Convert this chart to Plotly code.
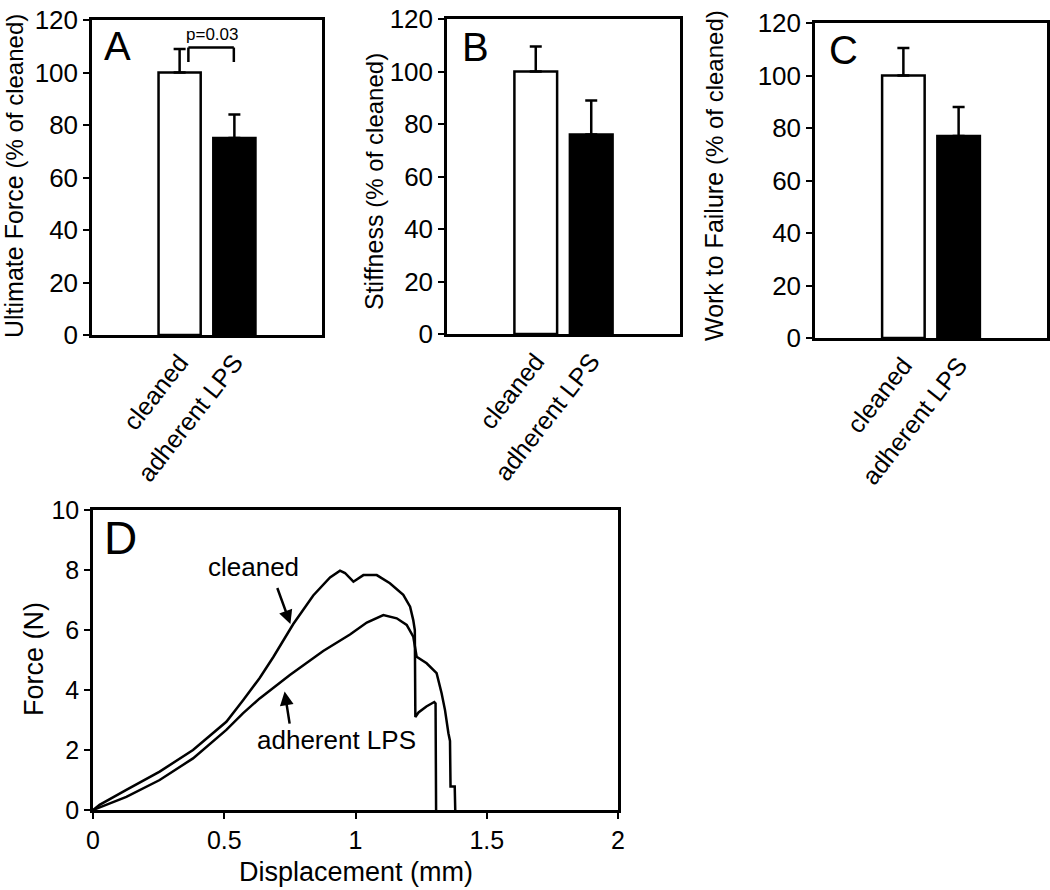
import plotly.graph_objects as go

# ---------------- data ----------------
groups = ["cleaned", "adherent LPS"]
ultimate_force = [100, 75]
ultimate_force_err = [9, 9]
stiffness = [100, 76]
stiffness_err = [9.5, 13]
work_to_failure = [100, 77]
work_to_failure_err = [10.5, 11]

cleaned_disp = [0, 0.025, 0.127, 0.254, 0.381, 0.508, 0.571, 0.635, 0.687, 0.763, 0.839,
                0.903, 0.941, 0.960, 0.992, 1.030, 1.081, 1.131, 1.182, 1.208, 1.220,
                1.226, 1.228, 1.240, 1.270, 1.300, 1.305, 1.307]
cleaned_force = [0, 0.17, 0.67, 1.28, 2.00, 2.94, 3.65, 4.40, 5.10, 6.20, 7.15,
                 7.75, 7.98, 7.90, 7.61, 7.83, 7.83, 7.56, 7.17, 6.78, 6.33,
                 6.00, 3.10, 3.25, 3.45, 3.60, 3.55, 0]
lps_disp = [0, 0.127, 0.254, 0.381, 0.508, 0.571, 0.635, 0.698, 0.750, 0.877, 0.979,
            1.043, 1.106, 1.157, 1.195, 1.220, 1.233, 1.271, 1.296, 1.309, 1.328,
            1.341, 1.354, 1.360, 1.362, 1.378, 1.380]
lps_force = [0, 0.44, 1.00, 1.72, 2.67, 3.22, 3.72, 4.15, 4.50, 5.30, 5.85,
             6.25, 6.50, 6.39, 6.17, 5.78, 5.11, 4.89, 4.67, 4.56, 3.89,
             3.33, 2.56, 2.30, 0.78, 0.78, 0]

bar_ticks = [0, 120, 20]
force_ticks = [0, 10, 2]

FONT = "Liberation Sans, Arial, Helvetica, sans-serif"
W, H = 1050, 890


def dom_x(a, b):
    return [a / W, b / W]


def dom_y(top, bottom):
    return [1 - bottom / H, 1 - top / H]


fig = go.Figure()

bar_panels = [
    (ultimate_force, ultimate_force_err, "x", "y"),
    (stiffness, stiffness_err, "x2", "y2"),
    (work_to_failure, work_to_failure_err, "x3", "y3"),
]
for vals, errs, xa, ya in bar_panels:
    fig.add_trace(go.Bar(
        x=[0, 1], y=vals, width=0.77,
        marker=dict(color=["white", "black"], line=dict(color="black", width=2.5)),
        error_y=dict(type="data", symmetric=False, array=errs, arrayminus=[0, 0],
                     color="black", thickness=2.5, width=6),
        xaxis=xa, yaxis=ya, showlegend=False,
    ))

fig.add_trace(go.Scatter(x=cleaned_disp, y=cleaned_force, mode="lines",
                         line=dict(color="black", width=2.5),
                         xaxis="x4", yaxis="y4", showlegend=False))
fig.add_trace(go.Scatter(x=lps_disp, y=lps_force, mode="lines",
                         line=dict(color="black", width=2.5),
                         xaxis="x4", yaxis="y4", showlegend=False))

axis_common = dict(showline=True, linecolor="black", linewidth=2.5, mirror=True,
                   showgrid=False, zeroline=False, ticks="outside", ticklen=6,
                   tickwidth=2, tickcolor="black", automargin=False)

bar_x = dict(axis_common, ticks="", range=[-1.6, 2.6], tickvals=[0, 1], ticktext=groups,
             tickangle=-52, tickfont=dict(family=FONT, size=25, color="black"))
bar_y = dict(axis_common, range=[0, 120], tickvals=list(range(bar_ticks[0], bar_ticks[1] + 1, bar_ticks[2])),
             tickfont=dict(family=FONT, size=26, color="black"))

layout = dict(
    width=W, height=H, margin=dict(l=0, r=0, t=0, b=0, autoexpand=False),
    plot_bgcolor="white", paper_bgcolor="white",
    font=dict(family=FONT, color="black"),
    xaxis=dict(bar_x, domain=dom_x(92, 322), anchor="y"),
    yaxis=dict(bar_y, domain=dom_y(20, 335), anchor="x"),
    xaxis2=dict(bar_x, domain=dom_x(447, 680), anchor="y2"),
    yaxis2=dict(bar_y, domain=dom_y(19, 334), anchor="x2"),
    xaxis3=dict(bar_x, domain=dom_x(815, 1047), anchor="y3"),
    yaxis3=dict(bar_y, domain=dom_y(23, 338), anchor="x3"),
    xaxis4=dict(axis_common, domain=dom_x(93, 618), anchor="y4", range=[0, 2],
                tickvals=[0, 0.5, 1, 1.5, 2], ticktext=["0", "0.5", "1", "1.5", "2"],
                tickfont=dict(family=FONT, size=25, color="black")),
    yaxis4=dict(axis_common, domain=dom_y(510, 810), anchor="x4", range=[0, 10],
                tickvals=list(range(force_ticks[0], force_ticks[1] + 1, force_ticks[2])),
                tickfont=dict(family=FONT, size=25, color="black")),
)
fig.update_layout(**layout)

ann = []
# panel letters
for letter, px, py, size in [("A", 117, 46, 40), ("B", 475, 47, 40),
                             ("C", 843, 50, 40), ("D", 120, 538, 46)]:
    ann.append(dict(text=letter, xref="paper", yref="paper", x=px / W, y=1 - py / H,
                    xanchor="center", yanchor="middle", showarrow=False,
                    font=dict(family=FONT, size=size, color="black")))

# y-axis titles for bar panels
for title, px, py in [("Ultimate Force", 14, 176), ("Stiffness", 374, 182), ("Work to Failure", 714, 176)]:
    ann.append(dict(text=f"{title} <span style='font-size:24px'>(% of cleaned)</span>",
                    xref="paper", yref="paper", x=px / W, y=1 - py / H, textangle=-90,
                    xanchor="center", yanchor="middle", showarrow=False,
                    font=dict(family=FONT, size=25, color="black")))

# significance bracket
for x0, x1, y0, y1 in [(0.16, 0.16, 104, 109.5), (0.16, 0.99, 109.5, 109.5), (0.99, 0.99, 104, 109.5)]:
    fig.add_shape(type="line", xref="x", yref="y", x0=x0, x1=x1, y0=y0, y1=y1,
                  line=dict(color="black", width=2.5))
ann.append(dict(text="p=0.03", xref="x", yref="y", x=0.59, y=114.5, showarrow=False,
                xanchor="center", yanchor="middle", font=dict(family=FONT, size=17, color="black")))

# panel D titles
ann.append(dict(text="Force (N)", xref="paper", yref="paper", x=34 / W, y=1 - 659 / H,
                textangle=-90, xanchor="center", yanchor="middle", showarrow=False,
                font=dict(family=FONT, size=27, color="black")))
ann.append(dict(text="Displacement (mm)", xref="paper", yref="paper", x=356 / W, y=1 - 872 / H,
                xanchor="center", yanchor="middle", showarrow=False,
                font=dict(family=FONT, size=27, color="black")))

# panel D curve labels
ann.append(dict(text="cleaned", xref="x4", yref="y4", x=0.613, y=8.1, showarrow=False,
                xanchor="center", yanchor="middle", font=dict(family=FONT, size=26, color="black")))
ann.append(dict(text="adherent LPS", xref="x4", yref="y4", x=0.927, y=2.33, showarrow=False,
                xanchor="center", yanchor="middle", font=dict(family=FONT, size=26, color="black")))
ann.append(dict(text="", xref="x4", yref="y4", x=0.752, y=6.2, ax=0.70, ay=7.45,
                axref="x4", ayref="y4", showarrow=True, arrowhead=2, arrowsize=1.1,
                arrowwidth=2.5, arrowcolor="black"))
ann.append(dict(text="", xref="x4", yref="y4", x=0.73, y=3.95, ax=0.75, ay=2.83,
                axref="x4", ayref="y4", showarrow=True, arrowhead=2, arrowsize=1.1,
                arrowwidth=2.5, arrowcolor="black"))

fig.update_layout(annotations=ann)
fig.write_html("out.html", config={"displayModeBar": False},
               post_script="document.body.style.margin='0';document.body.style.padding='0';")
